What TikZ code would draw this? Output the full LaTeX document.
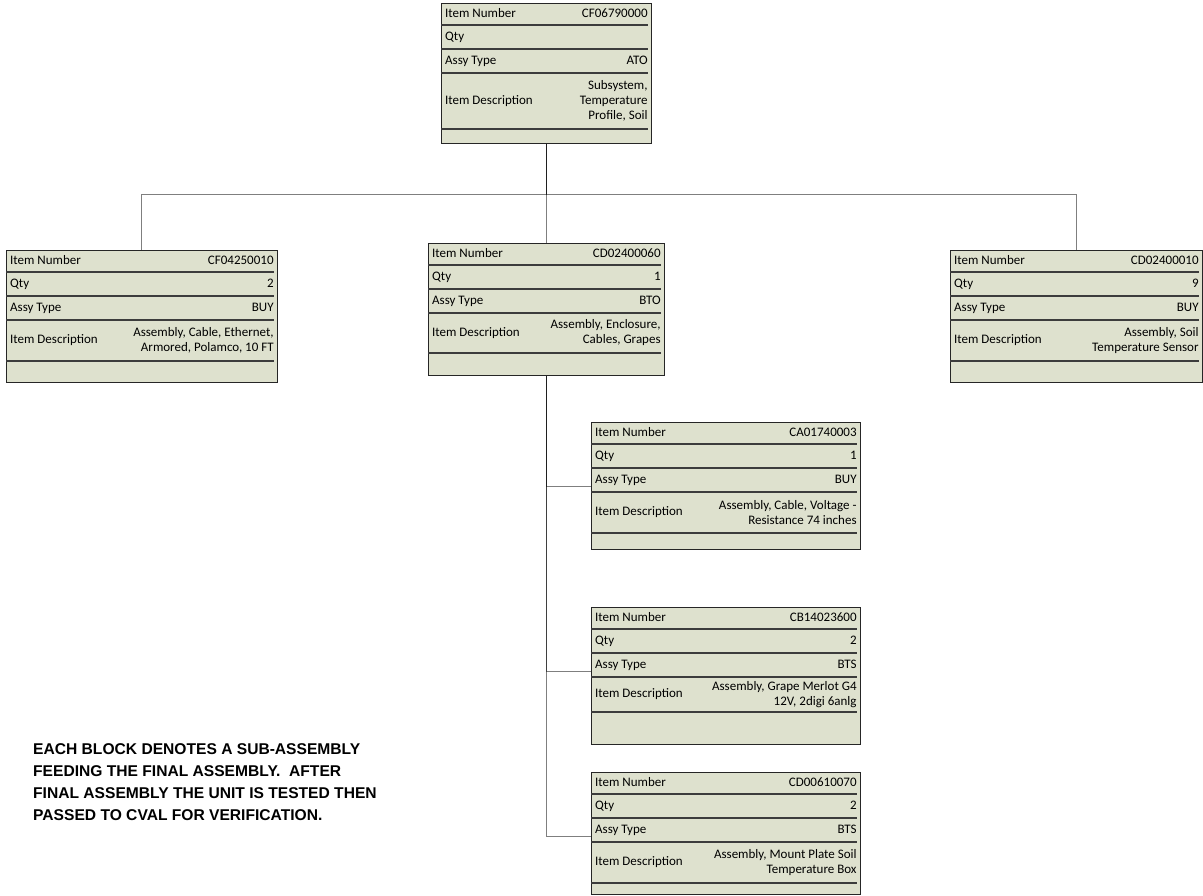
\documentclass[tikz,border=0pt]{standalone}
\usepackage{fontspec}
\setmainfont{Carlito}
\newfontfamily\notefont{Liberation Sans}
\usetikzlibrary{calc}
\definecolor{boxfill}{RGB}{222,225,206}
\definecolor{rowrule}{RGB}{60,60,60}

\tikzset{
  item/.style={draw=black!85, line width=0.8pt, fill=boxfill, anchor=north west, inner sep=0pt},
  rowline/.style={draw=rowrule, line width=1.1pt},
  lbl/.style={anchor=west, inner sep=0pt, text height=9pt, text depth=3pt, font=\fontsize{13}{15}\selectfont},
  val/.style={anchor=east, inner sep=0pt, text height=9pt, text depth=3pt, font=\fontsize{13}{15}\selectfont},
  desc/.style={anchor=east, inner sep=0pt, align=right, font=\fontsize{13}{15}\selectfont},
  link/.style={draw=black, opacity=0.5, line width=1pt},
  note/.style={anchor=north west, inner sep=0pt, align=left, font=\notefont\bfseries\fontsize{15.6}{22}\selectfont}
}

% name, top left, width, height, description rule, item number, qty, assy type, description
\newcommand{\itembox}[9]{%
  \node[item, minimum width=#3pt, minimum height=#4pt] (#1) at (#2) {};
  \foreach \ry in {22,46,70,#5}
    \draw[rowline] ($(#1.north west)+(0,\ry)$) -- ++(#3-3,0);
  \node[lbl] (#1-l1) at ($(#1.north west)+(4,11)$) {Item Number};
  \node[val] (#1-v1) at ($(#1.north east)+(-4,11)$) {#6};
  \node[lbl] (#1-l2) at ($(#1.north west)+(4,34)$) {Qty};
  \node[val] (#1-v2) at ($(#1.north east)+(-4,34)$) {#7};
  \node[lbl] (#1-l3) at ($(#1.north west)+(4,58)$) {Assy Type};
  \node[val] (#1-v3) at ($(#1.north east)+(-4,58)$) {#8};
  \node[lbl] (#1-l4) at ($(#1.north west)+(4,{(70+#5)/2})$) {Item Description};
  \node[desc] (#1-v4) at ($(#1.north east)+(-4,{(70+#5)/2})$) {#9};
  \coordinate (#1-tap) at ($(#1.north west)+(0,64)$);
}

\begin{document}
\begin{tikzpicture}[x=1pt, y=-1pt]
  \useasboundingbox (0,0) rectangle (1203,895);

  \itembox{top}{441,3}{210}{140}{126}{CF06790000}{}{ATO}{Subsystem,\\Temperature\\Profile, Soil}
  \itembox{left}{6,250}{271}{132}{111}{CF04250010}{2}{BUY}{Assembly, Cable, Ethernet,\\Armored, Polamco, 10 FT}
  \itembox{mid}{428,243}{236}{132}{110}{CD02400060}{1}{BTO}{Assembly, Enclosure,\\Cables, Grapes}
  \itembox{right}{950,250}{252}{132}{111}{CD02400010}{9}{BUY}{Assembly, Soil\\Temperature Sensor}
  \itembox{sub1}{591,422}{269}{127}{111}{CA01740003}{1}{BUY}{Assembly, Cable, Voltage -\\Resistance 74 inches}
  \itembox{sub2}{591,607}{269}{137}{105}{CB14023600}{2}{BTS}{Assembly, Grape Merlot G4\\12V, 2digi 6anlg}
  \itembox{sub3}{591,772}{269}{122}{111}{CD00610070}{2}{BTS}{Assembly, Mount Plate Soil\\Temperature Box}

  \coordinate (bus) at (546,194);
  \draw[link] (top.south) |- (left.north |- bus) -- (left.north);
  \draw[link] (top.south) -- (mid.north);
  \draw[link] (top.south) |- (right.north |- bus) -- (right.north);

  \draw[link] (mid.south) |- (sub1-tap);
  \draw[link] (mid.south) |- (sub2-tap);
  \draw[link] (mid.south) |- (sub3-tap);

  \node[note] (note) at (33,743) {EACH BLOCK DENOTES A SUB-ASSEMBLY\\FEEDING THE FINAL ASSEMBLY.~ AFTER\\FINAL ASSEMBLY THE UNIT IS TESTED THEN\\PASSED TO CVAL FOR VERIFICATION.};
\end{tikzpicture}
\end{document}
